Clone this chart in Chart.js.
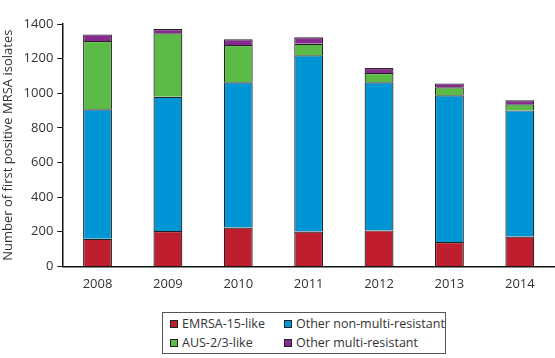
<!DOCTYPE html>
<html lang="en">
<head>
<meta charset="UTF-8">
<title>MRSA isolates</title>
<script src="https://cdn.jsdelivr.net/npm/chart.js"></script>
<style>
    body { margin: 0; background: #fff; font-family: "Open Sans", sans-serif; }
    .wrap { position: relative; width: 555px; height: 358px; }
    .chart-box { position: absolute; left: 0; top: 0; width: 555px; height: 294px; }
    .legend {
        position: absolute; left: 162px; top: 312px; width: 284px; height: 42px;
        border: 1px solid #555; box-sizing: border-box;
        display: grid; grid-template-columns: 114px 170px; align-content: center;
        font-size: 12.5px; color: #333; row-gap: 2px;
    }
    .legend div { display: flex; align-items: center; white-space: nowrap; padding-left: 7px; }
    .legend span.sw { width: 8px; height: 8px; border: 1px solid #222; box-sizing: border-box; margin-right: 4px; }
</style>
</head>
<body>
<div class="wrap">
    <div class="chart-box"><canvas id="mrsaChart"></canvas></div>
    <div class="legend" id="legenda"></div>
</div>

<script>
    var anos = ["2008", "2009", "2010", "2011", "2012", "2013", "2014"];
    var emrsa15 = [160, 204, 224, 202, 208, 141, 172];
    var outrosNaoMulti = [748, 776, 839, 1017, 855, 847, 729];
    var aus23 = [394, 366, 216, 67, 54, 46, 35];
    var outrosMulti = [38, 25, 33, 37, 29, 23, 24];

    var nomes = ["EMRSA-15-like", "Other non-multi-resistant", "AUS-2/3-like", "Other multi-resistant"];
    var cores = ["#BE1E2D", "#0096D6", "#5BBB46", "#862A8E"];
    var series = [emrsa15, outrosNaoMulti, aus23, outrosMulti];

    var datasets = [];
    for (var i = 0; i < series.length; i++) {
        datasets.push({
            label: nomes[i],
            data: series[i],
            backgroundColor: cores[i],
            borderColor: "#222",
            borderWidth: 1.2,
            barPercentage: 0.41,
            categoryPercentage: 1.0
        });
    }

    // legend in a box, two columns like the original
    var legenda = document.getElementById("legenda");
    for (var j = 0; j < nomes.length; j++) {
        var item = document.createElement("div");
        item.innerHTML = '<span class="sw" style="background:' + cores[j] + '"></span>' + nomes[j];
        legenda.appendChild(item);
    }

    var fonte = { family: "'Open Sans', sans-serif", size: 13 };

    new Chart(document.getElementById("mrsaChart"), {
        type: "bar",
        data: { labels: anos, datasets: datasets },
        options: {
            responsive: true,
            maintainAspectRatio: false,
            animation: false,
            layout: { padding: { top: 24, right: 0, left: 0, bottom: 0 } },
            plugins: { legend: { display: false }, tooltip: { enabled: false } },
            scales: {
                x: {
                    stacked: true,
                    grid: { display: false },
                    border: { display: true, color: "#111", width: 1.5 },
                    ticks: { color: "#333", font: fonte, padding: 2 }
                },
                y: {
                    stacked: true,
                    min: 0,
                    max: 1400,
                    ticks: {
                        stepSize: 200, color: "#333", font: fonte, padding: 4,
                        callback: function (v) { return String(v); }
                    },
                    grid: { drawOnChartArea: false, drawTicks: true, tickLength: 5, color: "#111" },
                    border: { display: true, color: "#111", width: 1.5 },
                    title: {
                        display: true,
                        text: "Number of first positive MRSA isolates",
                        color: "#333",
                        font: fonte,
                        padding: { top: 0, bottom: 4 }
                    }
                }
            }
        }
    });
</script>
</body>
</html>
